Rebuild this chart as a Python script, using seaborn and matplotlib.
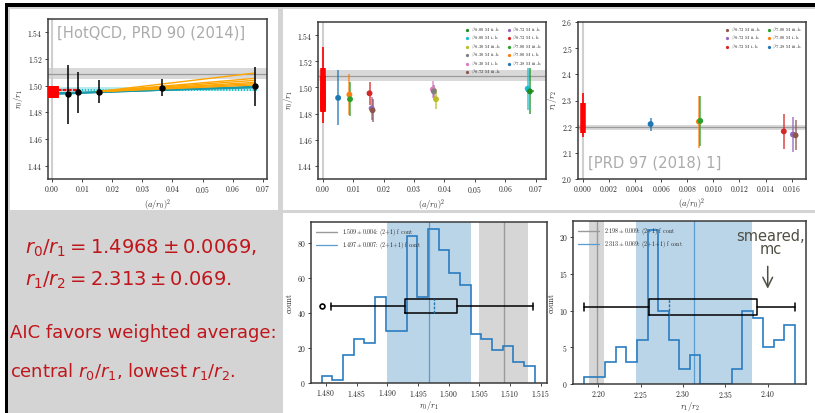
import numpy as np
import pandas as pd
import matplotlib.pyplot as plt
import seaborn as sns
from matplotlib.patches import Rectangle

# ---------------- data ----------------
# literature values (grey bands)
hot_r01, hot_r01_err = 1.509, 0.004
hot_r12, hot_r12_err = 2.198, 0.009
res_r01, res_r01_err = 1.4968, 0.0069
res_r12, res_r12_err = 2.313, 0.069

# top-left: black points + fits
tl_a2 = [0.0052, 0.0088, 0.0155, 0.0364, 0.0675]
tl_r01 = [1.4935, 1.4950, 1.4955, 1.4985, 1.4995]
tl_err = [0.0220, 0.0155, 0.0085, 0.0065, 0.0145]
tl_cont = [1.4950]
tl_cont_err = [0.0045]
teal_x = [0.0, 0.068]
teal_y0 = [1.4935, 1.4940, 1.4945]
teal_y1 = [1.4995, 1.4990, 1.4985]
orange_x = [0.015, 0.0675]
orange_y0 = [1.4955, 1.4955, 1.4955, 1.4955, 1.4955, 1.4955]
orange_y1 = [1.5095, 1.5055, 1.5040, 1.5025, 1.5015, 1.5005]
cyan_x = [0.0, 0.068]
cyan_lo, cyan_hi = 1.4962, 1.4988
cyan_dots = [1.4975, 1.4968]
red_x = [0.0, 0.009]
red_dash = [1.4975, 1.4965, 1.4950]

# ensembles
L = {
    "600ii": r"$\beta\ 6.00$ M ii..h", "600i": r"$\beta\ 6.00$ M i..h",
    "630iii": r"$\beta\ 6.30$ M iii..h", "630ii": r"$\beta\ 6.30$ M ii..h",
    "630i": r"$\beta\ 6.30$ M i..h", "672iii": r"$\beta\ 6.72$ M iii..h",
    "672ii": r"$\beta\ 6.72$ M ii..h", "672i": r"$\beta\ 6.72$ M i..h",
    "700iii": r"$\beta\ 7.00$ M iii..h", "700i": r"$\beta\ 7.00$ M i..h",
    "728iii": r"$\beta\ 7.28$ M iii..h",
}
pal = {
    L["600ii"]: "#1e8c1e", L["600i"]: "#17becf", L["630iii"]: "#bcbd22",
    L["630ii"]: "#7f7f7f", L["630i"]: "#e377c2", L["672iii"]: "#8c564b",
    L["672ii"]: "#9467bd", L["672i"]: "#d62728", L["700iii"]: "#2ca02c",
    L["700i"]: "#ff7f0e", L["728iii"]: "#1f77b4",
}

# top-middle
tm_ens = ["728iii", "700i", "700iii", "672i", "672ii", "672iii",
          "630i", "630ii", "630iii", "600i", "600ii"]
tm_a2 = [0.0051, 0.0088, 0.0090, 0.0154, 0.0161, 0.0164,
         0.0362, 0.0365, 0.0372, 0.0673, 0.0680]
tm_r01 = [1.4920, 1.4945, 1.4910, 1.4955, 1.4840, 1.4825,
          1.4985, 1.4970, 1.4910, 1.4990, 1.4970]
tm_err = [0.0210, 0.0155, 0.0130, 0.0090, 0.0090, 0.0090,
          0.0065, 0.0050, 0.0075, 0.0160, 0.0175]
tm_xerr = [0, 0, 0, 0, 0, 0, 0, 0, 0, 0.0010, 0.0012]
tm_order = ["600ii", "600i", "630iii", "630ii", "630i", "672iii",
            "672ii", "672i", "700iii", "700i", "728iii"]
tm_cont = [1.4985, 1.4965, 1.4890, 1.5020]
tm_cont_err = [0.0165, 0.0120, 0.0080, 0.0290]

# top-right
tr_ens = ["728iii", "700i", "700iii", "672i", "672ii", "672iii"]
tr_a2 = [0.0052, 0.0089, 0.0090, 0.0154, 0.0161, 0.0163]
tr_r12 = [2.210, 2.219, 2.222, 2.182, 2.170, 2.167]
tr_err = [0.025, 0.100, 0.095, 0.067, 0.068, 0.058]
tr_order = ["672iii", "672ii", "672i", "700iii", "700i", "728iii"]
tr_cont = [2.2325, 2.245]
tr_cont_err = [0.0575, 0.085]

# bottom-middle histogram of r0/r1
bm_edges = [1.4793, 1.4810, 1.4828, 1.4845, 1.4862, 1.4880, 1.4897, 1.4914,
            1.4932, 1.4949, 1.4966, 1.4984, 1.5001, 1.5018, 1.5036, 1.5053,
            1.5071, 1.5088, 1.5105, 1.5123, 1.5140]
bm_counts = [4, 2, 16, 25, 23, 49, 30, 30, 84, 49, 88, 76, 63, 56, 28, 25,
             19, 21, 12, 10]
bm_box = dict(whislo=1.48076, q1=1.49288, med=1.49766, q3=1.50131,
              whishi=1.5137, fliers=[1.4793])

# bottom-right histogram of r1/r2
br_edges = [2.1835, 2.1959, 2.2084, 2.2208, 2.2332, 2.2457, 2.2581, 2.2706,
            2.2830, 2.2954, 2.3079, 2.3203, 2.3327, 2.3452, 2.3576, 2.3701,
            2.3825, 2.3949, 2.4074, 2.4198, 2.4322]
br_counts = [1, 1, 3, 5, 3, 6, 21, 10, 6, 2, 4, 0, 0, 0, 2, 10, 9, 5, 6, 8]
br_box = dict(whislo=2.1835, q1=2.2602, med=2.2836, q3=2.3870,
              whishi=2.4322, fliers=[])

# ---------------- style ----------------
sns.set_style("ticks")
plt.rcParams["font.family"] = "serif"
plt.rcParams["font.serif"] = ["cmr10", "DejaVu Serif"]
plt.rcParams["mathtext.fontset"] = "cm"
plt.rcParams["axes.formatter.use_mathtext"] = True
plt.rcParams["axes.unicode_minus"] = False

W, H = 815, 413
fig = plt.figure(figsize=(W / 100, H / 100), dpi=100)
fig.patch.set_facecolor("white")


def rect(x0, y0, x1, y1, c):
    fig.add_artist(Rectangle((x0 / W, 1 - y1 / H), (x1 - x0) / W, (y1 - y0) / H,
                             transform=fig.transFigure, color=c, lw=0, zorder=-5))


rect(8, 7, 815, 413, "#d4d4d4")
rect(5, 3, 815, 7, "black")
rect(5, 3, 8, 413, "black")
rect(10, 9, 278, 210, "white")
rect(283, 9, 815, 210, "white")
rect(283, 213, 815, 413, "white")


def add_ax(x0, y0, x1, y1):
    ax = fig.add_axes([x0 / W, 1 - y1 / H, (x1 - x0) / W, (y1 - y0) / H])
    for s in ax.spines.values():
        s.set_color("#3a3a3a")
        s.set_linewidth(1.1)
    ax.tick_params(labelsize=5.5, length=2.5, width=0.6, pad=1.2)
    return ax


gray_band = "#d0d0d0"
gray_line = "#9a9a9a"
leg_kw = dict(ncol=2, fontsize=3.3, frameon=False, title=None, handletextpad=0.1,
              columnspacing=1.2, labelspacing=0.08, markerscale=0.55,
              borderaxespad=0.4, handlelength=1.2)

# ---------------- top-left ----------------
ax = add_ax(48, 19, 267, 179)
ax.axvline(0, color="#cfcfcf", lw=1.5, zorder=0)
ax.axhspan(hot_r01 - hot_r01_err, hot_r01 + hot_r01_err, color=gray_band, alpha=0.8, lw=0, zorder=0)
ax.axhline(hot_r01, color=gray_line, lw=0.9, zorder=1)
ax.fill_between(cyan_x, cyan_lo, cyan_hi, color="#17becf", alpha=0.3, lw=0, zorder=1)
for y in cyan_dots:
    ax.plot(cyan_x, [y, y], color="#17becf", lw=0.8, ls=":", zorder=2)
ax.fill_between(red_x, min(red_dash) - 0.001, max(red_dash) + 0.001, color="red", alpha=0.12, lw=0, zorder=1)
for y in red_dash:
    ax.plot(red_x, [y, y], color="red", lw=0.7, ls="--", zorder=2)
for y0, y1 in zip(teal_y0, teal_y1):
    ax.plot(teal_x, [y0, y1], color="#1a9aa8", lw=1.1, zorder=2)
for y0, y1 in zip(orange_y0, orange_y1):
    ax.plot(orange_x, [y0, y1], color="orange", lw=1.0, zorder=2)
ax.errorbar([0] * len(tl_cont), tl_cont, yerr=tl_cont_err, fmt="none", ecolor="red", elinewidth=10, zorder=3)
ax.errorbar(tl_a2, tl_r01, yerr=tl_err, fmt="o", color="black", ms=3.6, elinewidth=1.1, zorder=4)
ax.set_xlim(-0.0013, 0.0714)
ax.set_ylim(1.43, 1.55)
ax.set_xticks(np.arange(0, 0.071, 0.01))
ax.set_yticks(np.arange(1.44, 1.541, 0.02))
ax.set_xlabel(r"$(a/r_0)^2$", fontsize=6, labelpad=1)
ax.set_ylabel(r"$r_0/r_1$", fontsize=6, labelpad=2)
ax.text(0.04, 0.91, "[HotQCD, PRD 90 (2014)]", transform=ax.transAxes, family="DejaVu Sans",
        fontsize=10.6, color="#ababab", va="center")

# ---------------- top-middle ----------------
ax = add_ax(318, 22, 546, 179)
ax.axvline(0, color="#cfcfcf", lw=1.5, zorder=0)
ax.axhspan(hot_r01 - hot_r01_err, hot_r01 + hot_r01_err, color=gray_band, alpha=0.8, lw=0, zorder=0)
ax.axhline(hot_r01, color=gray_line, lw=0.9, zorder=1)
for y, e, lw in zip(tm_cont, tm_cont_err, [4, 4, 4, 1.2]):
    ax.errorbar(0, y, yerr=e, fmt="none", ecolor="red", elinewidth=lw, zorder=3)
tm = pd.DataFrame({"a2": tm_a2, "r": tm_r01, "err": tm_err, "xerr": tm_xerr,
                   "ens": [L[k] for k in tm_ens]})
for _, row in tm.iterrows():
    ax.errorbar(row.a2, row.r, yerr=row.err, xerr=row.xerr or None, fmt="none",
                ecolor=pal[row.ens], alpha=0.85, elinewidth=1.1, zorder=3)
sns.scatterplot(data=tm, x="a2", y="r", hue="ens", hue_order=[L[k] for k in tm_order],
                palette=pal, s=18, linewidth=0, ax=ax, zorder=4)
sns.move_legend(ax, "upper right", **leg_kw)
ax.set_xlim(-0.0015, 0.0733)
ax.set_ylim(1.43, 1.55)
ax.set_xticks(np.arange(0, 0.071, 0.01))
ax.set_yticks(np.arange(1.44, 1.541, 0.02))
ax.set_xlabel(r"$(a/r_0)^2$", fontsize=6, labelpad=1)
ax.set_ylabel(r"$r_0/r_1$", fontsize=6, labelpad=2)

# ---------------- top-right ----------------
ax = add_ax(578, 22, 806, 179)
ax.axvline(0, color="#cfcfcf", lw=1.5, zorder=0)
ax.axhspan(hot_r12 - hot_r12_err, hot_r12 + hot_r12_err, color=gray_band, alpha=0.8, lw=0, zorder=0)
ax.axhline(hot_r12, color=gray_line, lw=0.9, zorder=1)
for y, e, lw in zip(tr_cont, tr_cont_err, [4, 1.2]):
    ax.errorbar(0, y, yerr=e, fmt="none", ecolor="red", elinewidth=lw, zorder=3)
tr = pd.DataFrame({"a2": tr_a2, "r": tr_r12, "err": tr_err, "ens": [L[k] for k in tr_ens]})
for _, row in tr.iterrows():
    ax.errorbar(row.a2, row.r, yerr=row.err, fmt="none", ecolor=pal[row.ens],
                alpha=0.85, elinewidth=1.1, zorder=3)
sns.scatterplot(data=tr, x="a2", y="r", hue="ens", hue_order=[L[k] for k in tr_order],
                palette=pal, s=18, linewidth=0, ax=ax, zorder=4)
sns.move_legend(ax, "upper right", **leg_kw)
ax.set_xlim(-0.00036, 0.0171)
ax.set_ylim(2.0, 2.6)
ax.set_xticks(np.arange(0, 0.0161, 0.002))
ax.set_yticks(np.arange(2.0, 2.61, 0.1))
ax.set_xlabel(r"$(a/r_0)^2$", fontsize=6, labelpad=1)
ax.set_ylabel(r"$r_1/r_2$", fontsize=6, labelpad=2)
ax.text(0.044, 0.10, "[PRD 97 (2018) 1]", transform=ax.transAxes, family="DejaVu Sans",
        fontsize=10.6, color="#ababab", va="center")


# ---------------- histograms ----------------
def hist_panel(ax, edges, counts, box, pos, width, hot, hot_e, res, res_e, lab_hot, lab_res):
    ax.axvspan(hot - hot_e, hot + hot_e, color="#d6d6d6", lw=0, zorder=0)
    ax.axvspan(res - res_e, res + res_e, color="#1f77b4", alpha=0.3, lw=0, zorder=0)
    ax.axvline(hot, color=gray_line, lw=1.0, zorder=1, label=lab_hot)
    ax.axvline(res, color="#5a9bd0", lw=0.9, zorder=1, label=lab_res)
    ax.stairs(counts, edges, color="#2a7dc0", lw=1.2, baseline=0, zorder=2)
    ax.bxp([box], positions=[pos], widths=width, orientation="horizontal",
           manage_ticks=False, showfliers=True,
           boxprops=dict(color="black", lw=1.1),
           whiskerprops=dict(color="black", lw=1.1),
           capprops=dict(color="black", lw=1.1),
           medianprops=dict(color="#1f77b4", lw=1.0, ls=(0, (2, 1))),
           flierprops=dict(marker="o", mfc="none", mec="black", ms=3.5, mew=1.2),
           zorder=3)
    ax.legend(loc="upper left", fontsize=4.3, frameon=False, handlelength=3.5,
              labelspacing=0.3, borderaxespad=0.5)
    ax.ticklabel_format(axis="x", useOffset=False)
    ax.tick_params(axis="x", pad=1)
    ax.set_ylabel("count", fontsize=6, labelpad=2)


ax = add_ax(311, 222, 547, 383)
hist_panel(ax, bm_edges, bm_counts, bm_box, 44, 8, hot_r01, hot_r01_err, res_r01, res_r01_err,
           r"$1.509 \pm 0.004$: (2+1) f cont", r"$1.497 \pm 0.007$: (2+1+1) f cont")
ax.set_xlim(1.47755, 1.51603)
ax.set_ylim(0, 92.2)
ax.set_xticks(np.arange(1.480, 1.5151, 0.005))
ax.set_yticks(np.arange(0, 81, 20))
ax.set_xlabel(r"$r_0/r_1$", fontsize=6, labelpad=0)

ax = add_ax(573, 221, 806, 384)
hist_panel(ax, br_edges, br_counts, br_box, 10.5, 2.2, hot_r12, hot_r12_err, res_r12, res_r12_err,
           r"$2.198 \pm 0.009$: (2+1) f cont", r"$2.313 \pm 0.069$: (2+1+1) f cont")
ax.set_xlim(2.1701, 2.4452)
ax.set_ylim(0, 22.2)
ax.set_xticks(np.arange(2.20, 2.401, 0.05))
ax.set_yticks(np.arange(0, 21, 5))
ax.set_xlabel(r"$r_1/r_2$", fontsize=6, labelpad=0)
ax.text(2.403, 19.2, "smeared,\nmc", family="DejaVu Sans", fontsize=10.5, color="#4f4f44",
        ha="center", va="center", linespacing=0.9)
ax.annotate("", xy=(2.40, 12.6), xytext=(2.40, 16.4),
            arrowprops=dict(arrowstyle="->,head_length=0.7,head_width=0.35", color="#4f4f44", lw=1.1))

# ---------------- left text block ----------------
red = "#c0161b"
txt = dict(family="DejaVu Sans", math_fontfamily="dejavusans", color=red, va="center")
fig.text(25 / W, 1 - 248 / H, r"$r_0/r_1 = 1.4968 \pm 0.0069,$", fontsize=14, **txt)
fig.text(25 / W, 1 - 280 / H, r"$r_1/r_2 = 2.313 \pm 0.069.$", fontsize=14, **txt)
fig.text(10 / W, 1 - 333 / H, "AIC favors weighted average:", fontsize=13, **txt)
fig.text(10 / W, 1 - 372 / H, r"central $r_0/r_1$, lowest $r_1/r_2$.", fontsize=13, **txt)

fig.savefig("out.png", dpi=100)
